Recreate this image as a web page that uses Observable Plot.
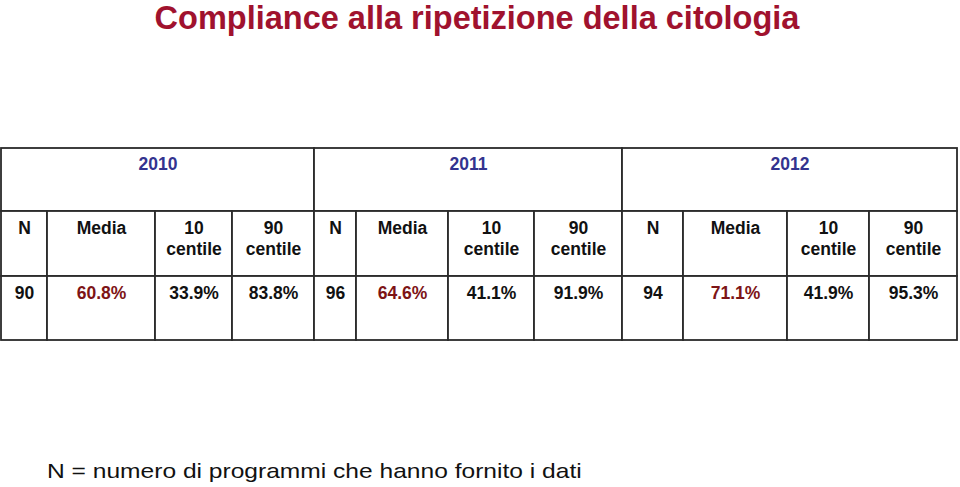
<!DOCTYPE html>
<html>
<head>
<meta charset="utf-8">
<script src="https://cdn.jsdelivr.net/npm/d3@7"></script>
<script src="https://cdn.jsdelivr.net/npm/@observablehq/plot@0.6"></script>
<style>
  html, body { margin: 0; padding: 0; background: #fff; width: 960px; height: 487px; overflow: hidden; }
  #title { position: absolute; left: 0; top: 0; width: 954px; text-align: center;
    font-family: "Liberation Sans", Arial, sans-serif; font-weight: bold;
    font-size: 33px; line-height: 36px; color: #a0122e;
    transform: scaleX(0.985); transform-origin: 477px 0; }
  #chart { position: absolute; left: 0; top: 140px; }
  #note { position: absolute; left: 47px; top: 458px; font-family: "Liberation Sans", Arial, sans-serif;
    font-size: 21px; line-height: 26px; color: #111; white-space: nowrap;
    transform: scaleX(1.17); transform-origin: 0 0; }
</style>
</head>
<body>
<div id="title">Compliance alla ripetizione della citologia</div>
<div id="chart"></div>
<div id="note">N = numero di programmi che hanno fornito i dati</div>
<script>
// Data
const years = ["2010", "2011", "2012"];
const headers = ["N", "Media", "10\ncentile", "90\ncentile"];
const nValues = [90, 96, 94];
const media = [60.8, 64.6, 71.1];
const p10 = [33.9, 41.1, 41.9];
const p90 = [83.8, 91.9, 95.3];

// Layout (cell sizes in pixels)
const colWidths = [46, 108, 77, 82, 42, 92, 86, 88, 61, 104, 82, 88];
const rowHeights = [63, 65, 64];

const colEdges = [0];
colWidths.forEach(w => colEdges.push(colEdges[colEdges.length - 1] + w));
const rowEdges = [0];
rowHeights.forEach(h => rowEdges.push(rowEdges[rowEdges.length - 1] + h));
const totalW = colEdges[colEdges.length - 1];
const totalH = rowEdges[rowEdges.length - 1];

const fmt = v => v.toFixed(1) + "%";

// Build cells
const cells = [];
years.forEach((yr, g) => {
  cells.push({x1: colEdges[g * 4], x2: colEdges[g * 4 + 4], y1: rowEdges[0], y2: rowEdges[1],
    label: yr, color: "#33338f", row: 0});
  headers.forEach((h, k) => {
    const c = g * 4 + k;
    cells.push({x1: colEdges[c], x2: colEdges[c + 1], y1: rowEdges[1], y2: rowEdges[2],
      label: h, color: "#111", row: 1});
  });
  const vals = [String(nValues[g]), fmt(media[g]), fmt(p10[g]), fmt(p90[g])];
  vals.forEach((v, k) => {
    const c = g * 4 + k;
    cells.push({x1: colEdges[c], x2: colEdges[c + 1], y1: rowEdges[2], y2: rowEdges[3],
      label: v, color: k === 1 ? "#7d1416" : "#111", row: 2});
  });
});

const pad = [7, 8, 8];

const plot = Plot.plot({
  width: 960,
  height: 210,
  marginTop: 0, marginBottom: 0, marginLeft: 0, marginRight: 0,
  x: {type: "linear", domain: [0, totalW], range: [1, 957], axis: null},
  y: {type: "linear", domain: [0, totalH], range: [8, 200], axis: null},
  style: {background: "transparent"},
  marks: [
    Plot.rect(cells, {x1: "x1", x2: "x2", y1: "y1", y2: "y2", fill: "white",
      stroke: "#2a2a2a", strokeWidth: 1.8}),
    Plot.text(cells, {
      x: d => (d.x1 + d.x2) / 2,
      y: d => d.y1 + pad[d.row],
      text: "label",
      fill: "color",
      lineAnchor: "top",
      lineHeight: 1.2,
      fontSize: 17.5,
      fontWeight: "bold",
      fontFamily: "Liberation Sans, Arial, sans-serif"
    })
  ]
});
document.getElementById("chart").appendChild(plot);
</script>
</body>
</html>
